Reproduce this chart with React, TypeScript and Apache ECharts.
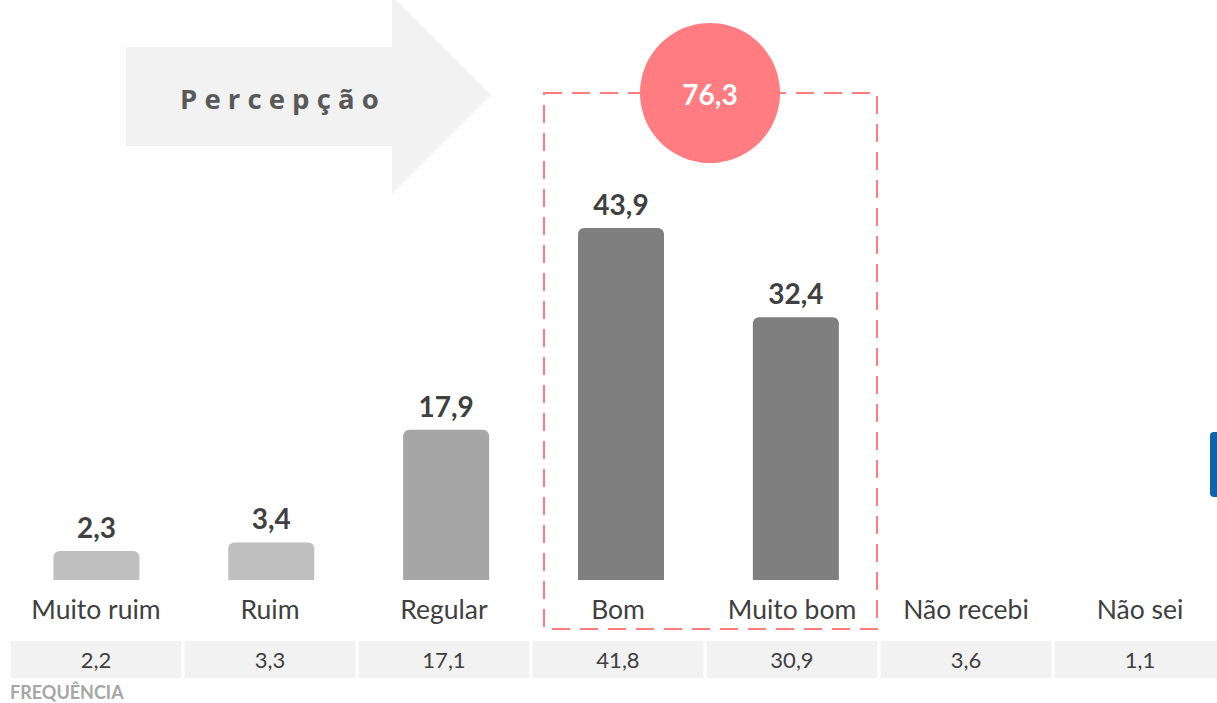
import React, { useEffect, useRef } from "react";
import * as echarts from "echarts";

const categories = ["Muito ruim", "Ruim", "Regular", "Bom", "Muito bom", "Não recebi", "Não sei"];
const perceptionValues = [2.3, 3.4, 17.9, 43.9, 32.4, null, null];
const barColors = ["#bfbfbf", "#bfbfbf", "#a6a6a6", "#7f7f7f", "#7f7f7f", "#7f7f7f", "#7f7f7f"];
const frequency = [2.2, 3.3, 17.1, 41.8, 30.9, 3.6, 1.1];
const positiveTotal = 76.3;
const arrowLabel = "P e r c e p ç ã o";
const footLabel = "FREQUÊNCIA";

// bars in the original rise from a small plinth below the zero line
const BAR_BASE = 1.43;

const fmt = (v: number) => v.toFixed(1).replace(".", ",");
const FONT = "Lato, 'Open Sans', sans-serif";
const W = 1240;

export default function App() {
  const ref = useRef<HTMLDivElement>(null);
  useEffect(() => {
    if (!ref.current) return;
    const chart = echarts.init(ref.current, undefined, { renderer: "svg" });
    chart.setOption({
      animation: false,
      backgroundColor: "#ffffff",
      grid: [
        { left: 9, right: W - 9 - 1224, top: 114, bottom: 123 },
        { left: 9, right: W - 9 - 1218, top: 114, bottom: 123 },
      ],
      xAxis: [
        {
          type: "category",
          gridIndex: 0,
          data: categories,
          show: false,
        },
        {
          type: "category",
          gridIndex: 1,
          data: categories,
          axisLine: { show: false },
          axisTick: { show: false },
          axisLabel: {
            interval: 0,
            margin: 15,
            color: "#404040",
            fontSize: 26.5,
            fontFamily: FONT,
          },
        },
        {
          type: "category",
          gridIndex: 1,
          data: frequency.map(fmt),
          position: "bottom",
          axisLine: { show: false },
          axisTick: { show: false },
          axisLabel: {
            interval: 0,
            margin: 61,
            color: "#404040",
            fontSize: 22,
            fontFamily: FONT,
            width: 171,
            height: 37,
            lineHeight: 37,
            align: "center",
            verticalAlign: "top",
            backgroundColor: "#f2f2f2",
            overflow: "none",
          },
        },
      ],
      yAxis: [
        { type: "value", gridIndex: 0, min: 0, max: 60, show: false },
        { type: "value", gridIndex: 1, min: 0, max: 60, show: false },
      ],
      series: [
        {
          type: "bar",
          stack: "p",
          xAxisIndex: 0,
          yAxisIndex: 0,
          barWidth: 86,
          silent: true,
          data: perceptionValues.map((v, i) => ({
            value: v == null ? null : BAR_BASE,
            itemStyle: { color: barColors[i] },
          })),
        },
        {
          type: "bar",
          stack: "p",
          xAxisIndex: 0,
          yAxisIndex: 0,
          barWidth: 86,
          data: perceptionValues.map((v, i) => ({
            value: v,
            itemStyle: { color: barColors[i], borderRadius: [6, 6, 0, 0] },
          })),
          label: {
            show: true,
            position: "top",
            distance: 10,
            color: "#404040",
            fontSize: 28,
            fontWeight: "bold",
            fontFamily: FONT,
            formatter: (p: any) => fmt(p.value),
          },
        },
      ],
      graphic: [
        {
          type: "polygon",
          z: 1,
          shape: {
            points: [
              [126, 47],
              [392, 47],
              [392, -4],
              [491, 95],
              [392, 194],
              [392, 146],
              [126, 146],
            ],
          },
          style: { fill: "#f2f2f2" },
        },
        {
          type: "text",
          z: 2,
          x: 180,
          y: 98,
          style: {
            text: arrowLabel,
            fill: "#595959",
            fontSize: 27.5,
            fontWeight: "bold",
            fontFamily: "'Open Sans', sans-serif",
            verticalAlign: "middle",
            align: "left",
          },
        },
        {
          type: "rect",
          z: 101,
          shape: { x: 544, y: 93, width: 333, height: 536 },
          style: { fill: "none", stroke: "#ff7c80", lineWidth: 2, lineDash: [18, 10] },
        },
        {
          type: "circle",
          z: 102,
          shape: { cx: 710, cy: 93, r: 70 },
          style: { fill: "#ff7c80" },
        },
        {
          type: "text",
          z: 103,
          x: 710,
          y: 94,
          style: {
            text: fmt(positiveTotal),
            fill: "#ffffff",
            fontSize: 28,
            fontWeight: "bold",
            fontFamily: FONT,
            align: "center",
            verticalAlign: "middle",
          },
        },
        {
          type: "rect",
          z: 5,
          shape: { x: 1210, y: 432, width: 20, height: 65, r: 4 },
          style: { fill: "#0b64ae" },
        },
        {
          type: "text",
          z: 5,
          x: 10,
          y: 692,
          style: {
            text: footLabel,
            fill: "#a6a6a6",
            fontSize: 18,
            fontWeight: "bold",
            fontFamily: FONT,
            verticalAlign: "middle",
          },
        },
      ],
    });
    return () => chart.dispose();
  }, []);
  return (
    <div
      ref={ref}
      style={{ position: "fixed", left: 0, top: 0, width: W, height: 703 }}
    />
  );
}
